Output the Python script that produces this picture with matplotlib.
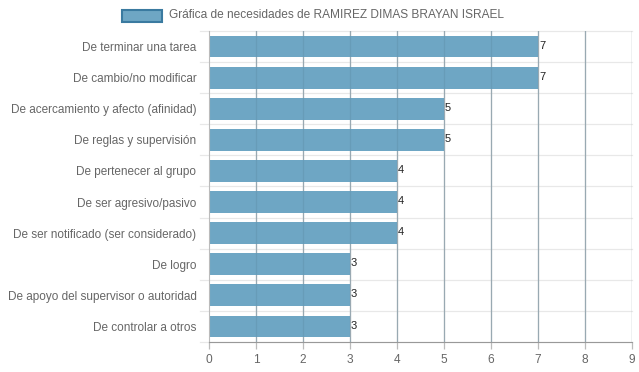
import matplotlib.pyplot as plt
import numpy as np

plt.rcParams['font.family'] = ['Liberation Sans', 'DejaVu Sans']

categorias = ["De terminar una tarea", "De cambio/no modificar",
              "De acercamiento y afecto (afinidad)", "De reglas y supervisión",
              "De pertenecer al grupo", "De ser agresivo/pasivo",
              "De ser notificado (ser considerado)", "De logro",
              "De apoyo del supervisor o autoridad", "De controlar a otros"]
valores = [7, 7, 5, 5, 4, 4, 4, 3, 3, 3]
titulo = "Gráfica de necesidades de RAMIREZ DIMAS BRAYAN ISRAEL"

fig = plt.figure(figsize=(6.39, 3.72), dpi=100)
ax = fig.add_axes([209/639, 1 - 342/372, (632 - 209)/639, (342 - 31)/372])

n = len(categorias)
y = np.arange(n)
ax.barh(y, valores, height=0.7, color='#6ea6c4', zorder=2)
for yi, v in zip(y, valores):
    ax.text(v + 0.02, yi - 0.03, str(v), fontsize=8, color='#222222', va='center', ha='left', zorder=4)

ax.set_xlim(0, 9)
ax.set_ylim(n - 0.5, -0.5)
ax.set_xticks(range(10))
ax.set_yticks(y)
ax.set_yticklabels(categorias)

# vertical grid lines, seen through the bars
for xv in range(1, 10):
    ax.axvline(xv, color='#bbbbbb', lw=0.9, zorder=1)
    ax.axvline(xv, color='#5a8aa3', lw=0.9, alpha=0.35, zorder=3)
# horizontal lines between categories, with a short stub left of the axis
for yb in np.arange(-0.5, n, 1.0):
    ax.axhline(yb, xmin=-0.022, xmax=1, color='#e8e8e8', lw=0.9, zorder=0, clip_on=False)

for s in ['top', 'right']:
    ax.spines[s].set_visible(False)
ax.spines['left'].set_color('#bbbbbb')
ax.spines['bottom'].set_color('#999999')
ax.tick_params(axis='x', colors='#bbbbbb', labelcolor='#666666', labelsize=8.6, length=5, width=0.9)
ax.tick_params(axis='y', length=0, labelcolor='#666666', labelsize=8.5, pad=9)

# legend box
fig.patches.append(plt.Rectangle((122/639, 1 - 22/372), 40/639, 12/372, transform=fig.transFigure,
                                 facecolor='#6ea6c4', edgecolor='#3a7aa0', lw=1.5))
fig.text(169/639, 1 - 15/372, titulo, fontsize=8.6, color='#666666', va='center', ha='left')

fig.savefig('out.png', dpi=100)
